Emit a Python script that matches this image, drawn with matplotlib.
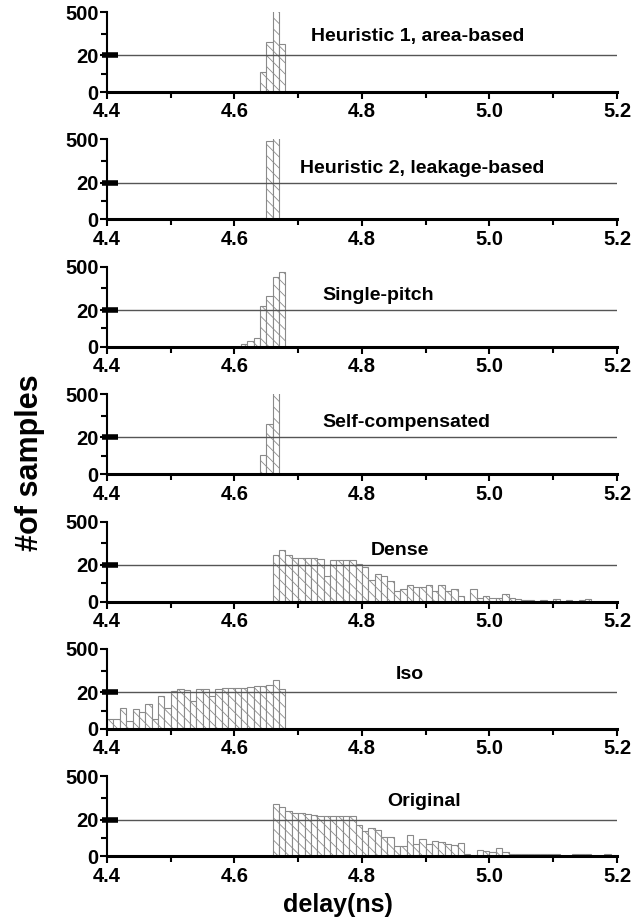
import matplotlib
matplotlib.use('Agg')
import matplotlib.pyplot as plt
from matplotlib.ticker import FixedLocator, MultipleLocator
import numpy as np

plt.rcParams['font.family'] = ['Liberation Sans', 'DejaVu Sans']
plt.rcParams['hatch.linewidth'] = 0.6

# histogram data, bin width 0.01 ns, counts
bin_width = 0.01
titles = ['Heuristic 1, area-based', 'Heuristic 2, leakage-based', 'Single-pitch',
          'Self-compensated', 'Dense', 'Iso', 'Original']

h1_start = 4.64
h1_counts = [11, 172, 680, 140]
h2_start = 4.64
h2_counts = [1, 480, 560]
sp_start = 4.61
sp_counts = [1.3, 3.2, 5, 61, 177, 388, 438]
sc_start = 4.64
sc_counts = [10.5, 172, 700]
dense_start = 4.66
dense_counts = [134, 183, 134, 101, 101, 101, 93, 85, 14, 77, 69, 69, 69, 28, 19, 12,
                15, 14, 11, 6, 7, 9, 8, 8, 9, 6, 9, 6, 7, 3, 0, 7, 2, 3, 2, 2, 4, 2,
                1.2, 1, 1, 0, 1, 0, 1.6, 0, 1, 0, 1, 1.6]
iso_start = 4.40
iso_counts = [5.2, 5.2, 11.5, 4.6, 10.6, 9.4, 13.5, 5.4, 17.7, 11.5, 28, 53, 48, 15.4,
              53, 53, 18, 53, 65, 69, 69, 65, 73, 93, 93, 101, 154, 61]
orig_start = 4.66
orig_counts = [195, 160, 120, 90, 90, 81, 72, 64, 55, 64, 55, 55, 55, 17, 13.6, 15.5,
               14.4, 10.3, 10.3, 5.4, 5.4, 11.4, 6.5, 9.2, 6.5, 8.4, 8, 6.5, 6.2, 7.5,
               1.4, 0, 3.6, 2.8, 2.4, 4.3, 2.4, 1.3, 1.2, 1.2, 1.2, 1.2, 1.2, 1.2, 1.2,
               0, 0, 1.2, 1.2, 1.2, 0, 0, 1.2]

starts = [h1_start, h2_start, sp_start, sc_start, dense_start, iso_start, orig_start]
counts = [h1_counts, h2_counts, sp_counts, sc_counts, dense_counts, iso_counts, orig_counts]
title_x = [4.887, 4.895, 4.825, 4.87, 4.86, 4.875, 4.898]
title_y = [0.69, 0.64, 0.64, 0.65, 0.64, 0.68, 0.68]

y_ticks = [0, 20, 500]
y_minor = [10, 260]
break_at = 20
low_frac = 0.46


# broken y axis: 0-20 linear on the lower part, 20-500 compressed above
def fwd(y):
    y = np.asarray(y, dtype=float)
    return np.where(y <= break_at, y / break_at * low_frac,
                    low_frac + (y - break_at) / (500 - break_at) * (1 - low_frac))


def inv(v):
    v = np.asarray(v, dtype=float)
    return np.where(v <= low_frac, v / low_frac * break_at,
                    break_at + (v - low_frac) / (1 - low_frac) * (500 - break_at))


fig = plt.figure(figsize=(6.42, 9.24), dpi=100)
left = 107 / 642
width = (617 - 107) / 642
h = 80 / 924

for i in range(7):
    bottom = 1 - (92 + 127.4 * i) / 924
    ax = fig.add_axes([left, bottom, width, h])
    ax.set_yscale('function', functions=(fwd, inv))
    x = starts[i] + bin_width * np.arange(len(counts[i]))
    ax.bar(x, counts[i], width=bin_width, align='edge', facecolor='white',
           edgecolor='#8a8a8a', linewidth=0.8, hatch='\\\\\\', zorder=2)
    ax.axhline(break_at, color='#555555', lw=1.0, zorder=3)
    ax.set_xlim(4.4, 5.2)
    ax.set_ylim(0, 500)
    ax.xaxis.set_minor_locator(MultipleLocator(0.1))
    ax.yaxis.set_major_locator(FixedLocator(y_ticks))
    ax.yaxis.set_minor_locator(FixedLocator(y_minor))
    ax.set_xticks([4.4, 4.6, 4.8, 5.0, 5.2])
    ax.set_xticklabels(['4.4', '4.6', '4.8', '5.0', '5.2'], fontsize=14.5, fontweight='bold')
    ax.set_yticklabels(['0', '20', '500'], fontsize=14.5, fontweight='bold')
    ax.tick_params(axis='both', which='major', direction='out', length=5, width=1.5, pad=1)
    ax.tick_params(axis='x', which='major', pad=2.5)
    ax.tick_params(axis='both', which='minor', direction='out', length=4, width=1.5)
    for s in ['top', 'right']:
        ax.spines[s].set_visible(False)
    ax.spines['left'].set_linewidth(1.5)
    ax.spines['bottom'].set_linewidth(2.2)
    # axis break mark
    ax.plot([-0.01, 0.022], [break_at, break_at], color='black', lw=4,
            solid_capstyle='butt', transform=ax.get_yaxis_transform(),
            clip_on=False, zorder=5)
    ax.text(title_x[i], title_y[i], titles[i], transform=ax.get_xaxis_transform(),
            ha='center', va='center', fontsize=14, fontweight='bold')

fig.text(338 / 642, 1 - 905 / 924, 'delay(ns)', ha='center', va='center',
         fontsize=18, fontweight='bold')
fig.text(30 / 642, 1 - 463 / 924, '#of samples', ha='center', va='center',
         rotation=90, fontsize=22, fontweight='bold')

plt.savefig('out.png', dpi=100)
